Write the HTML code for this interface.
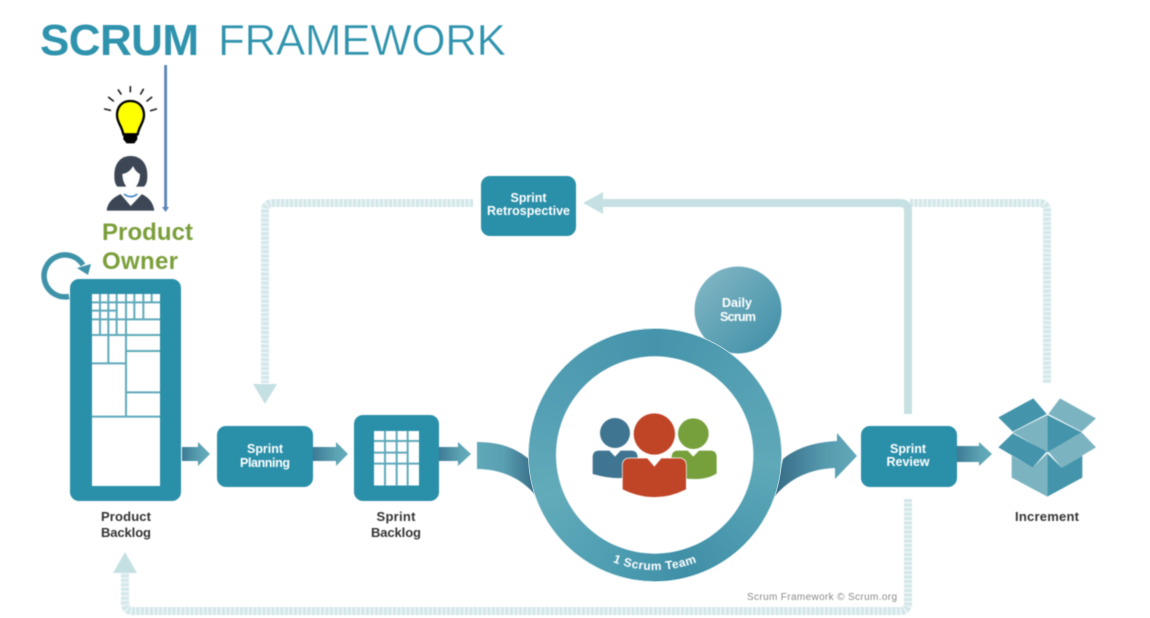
<!DOCTYPE html>
<html lang="en">
<head>
<meta charset="utf-8">
<title>Scrum Framework</title>
<style>
html,body{margin:0;padding:0;background:#fff;}
#wrap{position:relative;width:1150px;height:618px;overflow:hidden;background:#fff;}
svg{position:absolute;left:0;top:0;filter:blur(.4px);}
#ring{position:absolute;left:529px;top:329px;width:252px;height:252px;border-radius:50%;filter:blur(.3px);
background:conic-gradient(#4594ab 0deg,#57a2b4 60deg,#5ea8b8 95deg,#4c9aaf 135deg,#3f8fa7 165deg,#4f9eb2 205deg,#62abba 250deg,#549fb4 295deg,#4594ab 360deg);
box-shadow:0 0 0 1px #b9d9e0;}
text{font-family:"Liberation Sans",sans-serif;font-weight:700;}
</style>
</head>
<body>
<div id="wrap">
<svg width="1150" height="618" viewBox="0 0 1150 618" xmlns="http://www.w3.org/2000/svg">
<defs>
<linearGradient id="a1" x1="0" x2="1" y1="0" y2="0"><stop offset="0" stop-color="#3d7b96"/><stop offset=".7" stop-color="#5ea5b5"/><stop offset="1" stop-color="#66abba"/></linearGradient>
<linearGradient id="bl" x1="0" x2="1" y1="0" y2="0"><stop offset="0" stop-color="#5fa9b9"/><stop offset=".45" stop-color="#5a9fb2"/><stop offset="1" stop-color="#366a85"/></linearGradient>
<linearGradient id="br" x1="0" x2="1" y1="0" y2="0"><stop offset="0" stop-color="#356a85"/><stop offset=".6" stop-color="#5599ad"/><stop offset="1" stop-color="#62a9b9"/></linearGradient>
<linearGradient id="dg" x1="0" x2="1" y1="0" y2="1"><stop offset="0" stop-color="#86b9c6"/><stop offset="1" stop-color="#3c8da6"/></linearGradient>
</defs>

<!-- Title -->
<text x="40" y="55" font-size="44" fill="#2f93ad" textLength="159">SCRUM</text>
<text x="218" y="55" font-size="44" fill="#2f93ad" textLength="288" style="font-weight:400" stroke="#fff" stroke-width=".5">FRAMEWORK</text>

<!-- PO vertical arrow -->
<rect x="164.200" y="65" width="2.800" height="144" fill="#5b84b8"/>
<polygon points="162,207 169,207 165.600,212" fill="#5b84b8"/>

<!-- Bulb & person (drawn in 3x coordinates) -->
<g transform="scale(.3333333)">
  <path d="M391 303C362 303 351 325 351 345C351 368 366 378 370 403L413 403C417 378 432 368 432 345C432 325 420 303 391 303Z" fill="#ffff00" stroke="#000" stroke-width="7"/>
  <path d="M370 405H412V418L403 430H380L370 418Z" fill="#000"/>
  <g stroke="#222" stroke-width="5" stroke-linecap="round">
    <line x1="314" y1="327" x2="331" y2="331"/><line x1="326" y1="292" x2="340" y2="303"/>
    <line x1="355" y1="270" x2="363" y2="282"/><line x1="391" y1="260" x2="391" y2="275"/>
    <line x1="430" y1="268" x2="422" y2="282"/><line x1="455" y1="292" x2="441" y2="303"/>
    <line x1="469" y1="327" x2="452" y2="332"/>
  </g>
  <path d="M392 468C358 468 343 495 343 525C343 542 345 552 352 560L432 560C440 552 442 542 442 525C442 495 426 468 392 468Z" fill="#3c4654"/>
  <path d="M367 522C382 520 393 510 399 498C405 511 412 518 420 522C420 545 410 563 396 570H390C378 563 367 545 367 522Z" fill="#fff"/>
  <rect x="378" y="555" width="30" height="35" fill="#fff"/>
  <path d="M320 632C322 610 335 595 362 582L392 612L425 582C450 595 460 610 463 632Z" fill="#3c4654"/>
  <path d="M358 578L378 568Q392 590 408 568L430 578L392 618Z" fill="#fff"/>
  <path d="M372 582Q392 598 412 582" fill="none" stroke="#3f86c6" stroke-width="5"/>
</g>

<!-- Product owner -->
<text x="102" y="240" font-size="24" fill="#7b9f3b" textLength="91">Product</text>
<text x="102" y="269" font-size="24" fill="#7b9f3b" textLength="76">Owner</text>

<!-- Loop arrow -->
<path d="M69 296.500A21 21 0 1 1 83 265" fill="none" stroke="#3f93a9" stroke-width="5.500"/>
<polygon points="91,264 88,275 77,268" fill="#3f93a9"/>

<!-- Feedback lines -->
<g fill="none" stroke-width="8">
  <path d="M473 203H273Q265 203 265 211V383" stroke="#eef6f7"/>
  <path d="M910 203H1039Q1047 203 1047 211V383" stroke="#eef6f7"/>
  <path d="M908 499V603Q908 611 900 611H133Q125 611 125 603V573" stroke="#eef6f7"/>
  <path d="M473 203H273Q265 203 265 211V383" stroke="#d3e7ea" stroke-dasharray="3 1.500"/>
  <path d="M910 203H1039Q1047 203 1047 211V383" stroke="#d3e7ea" stroke-dasharray="3 1.500"/>
  <path d="M908 499V603Q908 611 900 611H133Q125 611 125 603V573" stroke="#d3e7ea" stroke-dasharray="3 1.500"/>
  <path d="M908 414V211Q908 203 900 203H600" stroke="#c7e0e3"/>
</g>
<polygon points="253,384 277,384 265,404" fill="#c5e0e3"/>
<polygon points="113,573 137,573 125,552" fill="#c5e0e3"/>
<polygon points="583,203 603,192 603,214" fill="#c5e0e3"/>

<!-- Flow arrows -->
<polygon points="182,447 198,447 198,442 210,454 198,466 198,461 182,461" fill="url(#a1)"/>
<polygon points="313,447 336,447 336,442 348,454 336,466 336,461 313,461" fill="url(#a1)"/>
<polygon points="439,447 458,447 458,442 471,454 458,466 458,461 439,461" fill="url(#a1)"/>
<polygon points="957,446 979,446 979,442 992,454 979,466 979,462 957,462" fill="url(#a1)"/>
<path d="M477 442C500 442 516 448 530 460L536 496C522 478 500 469 477 469Z" fill="url(#bl)"/>
<path d="M783 459C796 448 815 442 837 441V433L857 456L835 479V468C810 469 790 478 774 497Z" fill="url(#br)"/>

<!-- Boxes -->
<rect x="70" y="279" width="111" height="222" rx="9" fill="#2a8fa8"/>
<rect x="92" y="294" width="68" height="192" fill="#fff"/>
<g transform="translate(30 270) scale(.3333333)" stroke="#5fa9ba" stroke-width="6">
  <line x1="210" y1="72" x2="210" y2="195"/><line x1="235" y1="72" x2="235" y2="280"/>
  <line x1="260" y1="72" x2="260" y2="195"/><line x1="288" y1="72" x2="288" y2="440"/>
  <line x1="313" y1="72" x2="313" y2="148"/><line x1="340" y1="72" x2="340" y2="148"/>
  <line x1="365" y1="72" x2="365" y2="97"/>
  <line x1="185" y1="97" x2="390" y2="97"/><line x1="185" y1="122" x2="260" y2="122"/>
  <line x1="185" y1="148" x2="390" y2="148"/><line x1="185" y1="195" x2="390" y2="195"/>
  <line x1="288" y1="243" x2="390" y2="243"/><line x1="185" y1="280" x2="288" y2="280"/>
  <line x1="288" y1="367" x2="390" y2="367"/><line x1="185" y1="440" x2="390" y2="440"/>
</g>
<rect x="217" y="426" width="96" height="61" rx="9" fill="#2a8fa8"/>
<rect x="354" y="415" width="85" height="86" rx="9" fill="#2a8fa8"/>
<rect x="374" y="431" width="45" height="54.500" fill="#fff"/>
<g transform="translate(30 270) scale(.3333333)" stroke="#5fa9ba" stroke-width="6">
  <line x1="1065" y1="482" x2="1065" y2="646"/><line x1="1100" y1="482" x2="1100" y2="646"/><line x1="1133" y1="482" x2="1133" y2="646"/>
  <line x1="1032" y1="513" x2="1167" y2="513"/><line x1="1032" y1="548" x2="1133" y2="548"/><line x1="1032" y1="581" x2="1167" y2="581"/>
</g>
<rect x="481" y="176" width="95" height="60" rx="9" fill="#2a8fa8"/>
<rect x="861" y="426" width="96" height="61" rx="9" fill="#2a8fa8"/>

<!-- Daily -->
<circle cx="738" cy="310" r="43.500" fill="url(#dg)"/>

<!-- Box labels -->
<g fill="#fff" font-size="12.500" text-anchor="middle">
  <text x="528.500" y="202" textLength="36">Sprint</text>
  <text x="528.500" y="215" textLength="83">Retrospective</text>
  <text x="265" y="453" textLength="36">Sprint</text>
  <text x="265" y="467" textLength="50">Planning</text>
  <text x="908" y="453" textLength="36">Sprint</text>
  <text x="908" y="466" textLength="43">Review</text>
  <text x="737" y="307" textLength="30">Daily</text>
  <text x="738" y="321" textLength="36">Scrum</text>
</g>
<g fill="#333" font-size="13" text-anchor="middle">
  <text x="126" y="521" textLength="50">Product</text>
  <text x="126" y="537" textLength="50">Backlog</text>
  <text x="396" y="521" textLength="39">Sprint</text>
  <text x="396" y="537" textLength="50">Backlog</text>
  <text x="1047" y="521" textLength="64">Increment</text>
</g>
<text x="747" y="600" font-size="10" fill="#8a8a8a" textLength="150" style="font-weight:400">Scrum Framework © Scrum.org</text>

<!-- Increment box -->
<g transform="translate(990 390) scale(.3333333)">
  <polygon points="172,190 172,320 65,263 65,197 128,233" fill="#7cb3c0"/>
  <polygon points="172,190 172,320 277,263 277,197 215,233" fill="#4495ac"/>
  <polygon points="172,75 68,127 172,188" fill="#7cb3c0"/>
  <polygon points="172,75 275,127 172,188" fill="#4495ac"/>
  <polygon points="130,25 170,72 68,125 25,82" fill="#4495ac"/>
  <polygon points="210,25 318,85 275,125 175,72" fill="#7cb3c0"/>
  <polygon points="68,130 170,185 128,233 25,172" fill="#4495ac"/>
  <polygon points="275,127 318,172 215,233 175,185" fill="#7cb3c0"/>
</g>
</svg>

<div id="ring"></div>

<svg width="1150" height="618" viewBox="0 0 1150 618" xmlns="http://www.w3.org/2000/svg">
<defs><path id="arc" d="M608 560A115 115 0 0 0 702 560"/></defs>
<circle cx="654.700" cy="455" r="98.700" fill="#fff"/>
<g transform="translate(470 260) scale(.3333333)">
  <circle cx="435" cy="519" r="45" fill="#3f7590"/>
  <path d="M368 592Q368 572 388 572H418L435 590L452 572H483Q503 572 503 592V640Q460 668 368 642Z" fill="#3f7590"/>
  <circle cx="670" cy="521" r="46" fill="#76a03b"/>
  <path d="M605 592Q605 572 625 572H653L670 590L687 572H720Q740 572 740 592V640Q700 668 610 650Z" fill="#76a03b"/>
  <path d="M458 617Q458 595 480 595H532L553 620L574 595H626Q648 595 648 617V688Q553 735 458 688Z" fill="#fff" stroke="#fff" stroke-width="4"/>
  <path d="M458 617Q458 595 480 595H532L553 620L574 595H626Q648 595 648 617V688Q553 735 458 688Z" fill="#c04527"/>
  <circle cx="553" cy="522" r="62" fill="#c04527"/>
</g>
<text font-size="12" fill="#fff" textLength="86"><textPath href="#arc" startOffset="5">1 Scrum Team</textPath></text>
</svg>
</div>
</body>
</html>
